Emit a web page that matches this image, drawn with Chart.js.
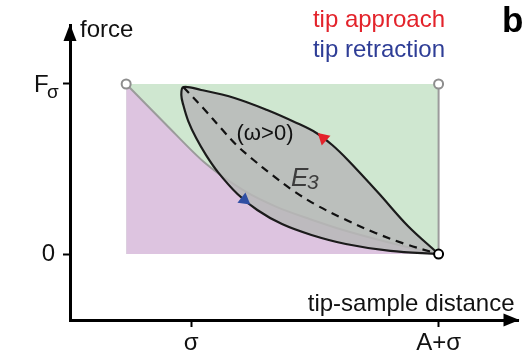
<!DOCTYPE html>
<html>
<head>
<meta charset="utf-8">
<script src="https://cdn.jsdelivr.net/npm/chart.js@4.4.0/dist/chart.umd.min.js"></script>
<style>
  html, body { margin: 0; padding: 0; background: #fff; }
  #wrap { width: 526px; height: 357px; position: relative; }
</style>
</head>
<body>
<div id="wrap"><canvas id="c"></canvas></div>
<script>
// ---- data (x in units where sigma = 1, A+sigma = 2; y in units of F_sigma) ----
const xTickValues = [1, 2];
const xTickLabels = ['σ', 'A+σ'];
const yTickValues = [0, 1];
const yTickLabels = ['0', ''];          // F_sigma drawn with subscript below

const rectX = [0.737, 2.0];
const rectY = [1.0, 1.0];

const boundaryX = [0.737, 0.896, 1.056, 1.215, 1.347, 1.478, 1.614, 1.745, 1.873, 2.0];
const boundaryY = [1.0, 0.765, 0.535, 0.371, 0.276, 0.206, 0.141, 0.088, 0.041, 0.0];

const edgeX = [2.0, 2.0];
const edgeY = [1.0, 0.0];

// approach (upper branch, from A+sigma up to the tip)
const approachX = [2.0, 1.876, 1.757, 1.633, 1.570, 1.506, 1.426, 1.307, 1.175, 1.040, 0.968];
const approachY = [0.0, 0.165, 0.359, 0.553, 0.641, 0.712, 0.771, 0.847, 0.918, 0.965, 0.982];
// retraction (lower branch, from the tip back down to A+sigma)
const retractX = [0.968, 0.960, 0.968, 0.988, 1.020, 1.060, 1.108, 1.187, 1.267, 1.367, 1.486, 1.625, 1.805, 2.0];
const retractY = [0.982, 0.935, 0.876, 0.782, 0.682, 0.582, 0.482, 0.353, 0.259, 0.176, 0.112, 0.059, 0.018, 0.0];

// dashed conservative curve (omega > 0)
const dashedX = [0.968, 1.048, 1.127, 1.187, 1.247, 1.327, 1.414, 1.506, 1.618, 1.745, 1.865, 2.0];
const dashedY = [0.982, 0.859, 0.729, 0.635, 0.559, 0.465, 0.371, 0.288, 0.206, 0.124, 0.059, 0.0];

const approachArrow = [1.534, 0.682];
const retractArrow = [1.215, 0.318];

const X_MIN = 0.51, X_MAX = 2.323;
const Y_MIN = -0.388, Y_MAX = 1.347;

const pts = (xs, ys) => xs.map((x, i) => ({ x: x, y: ys[i] }));
const loopPts = pts(approachX, approachY).concat(pts(retractX.slice(1), retractY.slice(1)));

const FONT = "'Liberation Sans', Arial, sans-serif";

const annot = {
  id: 'annot',
  afterDraw(chart) {
    const ctx = chart.ctx;
    const xs = chart.scales.x, ys = chart.scales.y;
    const ax = xs.getPixelForValue(X_MIN);
    const ay = ys.getPixelForValue(Y_MIN);
    const right = xs.getPixelForValue(X_MAX);
    const top = ys.getPixelForValue(Y_MAX);
    ctx.save();
    ctx.fillStyle = '#000';
    // arrow heads
    ctx.beginPath();
    ctx.moveTo(right + 1, ay);
    ctx.lineTo(right - 15, ay - 6.5);
    ctx.lineTo(right - 15, ay + 6.5);
    ctx.closePath();
    ctx.fill();
    ctx.beginPath();
    ctx.moveTo(ax, top - 1);
    ctx.lineTo(ax - 6.5, top + 16);
    ctx.lineTo(ax + 6.5, top + 16);
    ctx.closePath();
    ctx.fill();

    ctx.textBaseline = 'alphabetic';
    // axis titles
    ctx.fillStyle = '#111';
    ctx.font = '24px ' + FONT;
    ctx.textAlign = 'left';
    ctx.fillText('force', ax + 10, 37);
    ctx.textAlign = 'right';
    ctx.fillText('tip-sample distance', right - 4, 311);

    // F_sigma tick label
    const fy = ys.getPixelForValue(1);
    ctx.textAlign = 'left';
    ctx.font = '24px ' + FONT;
    ctx.fillText('F', 34, fy + 8);
    ctx.font = '19px ' + FONT;
    ctx.fillText('σ', 47, fy + 14);

    // legend texts
    ctx.textAlign = 'right';
    ctx.font = '24px ' + FONT;
    ctx.fillStyle = '#e3232b';
    ctx.fillText('tip approach', 445, 27);
    ctx.fillStyle = '#2e3d96';
    ctx.fillText('tip retraction', 445, 57);
    ctx.fillStyle = '#000';
    ctx.font = 'bold 35px ' + FONT;
    ctx.textAlign = 'left';
    ctx.fillText('b', 502, 32);

    // in-plot labels
    ctx.fillStyle = '#111';
    ctx.font = '22px ' + FONT;
    ctx.textAlign = 'center';
    ctx.fillText('(ω>0)', 265, 140);
    ctx.fillStyle = '#3c3c3c';
    ctx.textAlign = 'left';
    ctx.font = 'italic 26px ' + FONT;
    ctx.fillText('E', 291, 186);
    ctx.font = 'italic 21px ' + FONT;
    ctx.fillText('3', 307, 189);
    ctx.restore();
  }
};

new Chart(document.getElementById('c'), {
  type: 'scatter',
  data: {
    datasets: [
      { // green rectangle
        data: pts(rectX, rectY), showLine: true, borderWidth: 0, pointRadius: 0,
        fill: 'origin', backgroundColor: '#cfe7d0', order: 10
      },
      { // purple region below boundary
        data: pts(boundaryX, boundaryY), showLine: true, borderColor: '#9b9b9b', borderWidth: 2,
        pointRadius: 0, fill: 'origin', backgroundColor: '#ddc4e0', tension: 0.3, order: 9
      },
      { // right edge
        data: pts(edgeX, edgeY), showLine: true, borderColor: '#9b9b9b', borderWidth: 2,
        pointRadius: 0, fill: false, order: 8
      },
      { // hysteresis loop
        data: loopPts, showLine: true, borderColor: '#1b1b1b', borderWidth: 2.2,
        pointRadius: 0, fill: 'shape', backgroundColor: 'rgba(184,184,184,0.86)', tension: 0.35, order: 5
      },
      { // dashed
        data: pts(dashedX, dashedY), showLine: true, borderColor: '#111', borderWidth: 2.2,
        borderDash: [8, 6], pointRadius: 0, fill: false, tension: 0.35, order: 4
      },
      { // approach arrow
        data: [{ x: approachArrow[0], y: approachArrow[1] }], showLine: false,
        pointStyle: 'triangle', pointRotation: -48, pointRadius: 7.5, pointBackgroundColor: '#e3232b',
        pointBorderWidth: 0, backgroundColor: '#e3232b', borderWidth: 0, order: 2
      },
      { // retraction arrow
        data: [{ x: retractArrow[0], y: retractArrow[1] }], showLine: false,
        pointStyle: 'triangle', pointRotation: 128, pointRadius: 7.5, pointBackgroundColor: '#2f4ea3',
        pointBorderWidth: 0, backgroundColor: '#2f4ea3', borderWidth: 0, order: 2
      },
      { // gray open circles
        data: [{ x: rectX[0], y: rectY[0] }, { x: rectX[1], y: rectY[1] }], showLine: false,
        pointRadius: 4.5, borderColor: '#8e8e8e', backgroundColor: '#fff', borderWidth: 2, order: 1
      },
      { // black open circle
        data: [{ x: 2, y: 0 }], showLine: false,
        pointRadius: 4.5, borderColor: '#000', backgroundColor: '#fff', borderWidth: 2, order: 1
      }
    ]
  },
  options: {
    responsive: true,
    maintainAspectRatio: false,
    animation: false,
    events: [],
    layout: { padding: { top: 25, right: 1, left: 0, bottom: 0 } },
    plugins: { legend: { display: false }, tooltip: { enabled: false } },
    scales: {
      x: {
        type: 'linear', min: X_MIN, max: X_MAX,
        afterBuildTicks: s => { s.ticks = xTickValues.map(v => ({ value: v })); },
        afterFit: s => { s.height = 37; },
        ticks: {
          callback: (v, i) => xTickLabels[i], font: { size: 24, family: FONT }, color: '#111',
          padding: 2, autoSkip: false, maxRotation: 0
        },
        grid: { drawOnChartArea: false, drawTicks: true, tickLength: 7, tickWidth: 2, tickColor: '#000' },
        border: { display: true, color: '#000', width: 3 }
      },
      y: {
        type: 'linear', min: Y_MIN, max: Y_MAX,
        afterBuildTicks: s => { s.ticks = yTickValues.map(v => ({ value: v })); },
        afterFit: s => { s.width = 70; },
        ticks: {
          callback: (v, i) => yTickLabels[i], font: { size: 24, family: FONT }, color: '#111',
          padding: 8, autoSkip: false
        },
        grid: { drawOnChartArea: false, drawTicks: true, tickLength: 7, tickWidth: 2, tickColor: '#000' },
        border: { display: true, color: '#000', width: 3 }
      }
    }
  },
  plugins: [annot]
});
</script>
</body>
</html>
